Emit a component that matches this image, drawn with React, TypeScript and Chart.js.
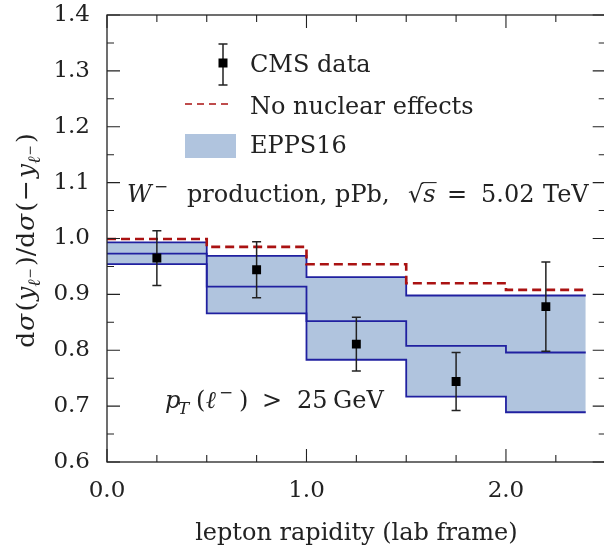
import React, { useEffect, useRef } from 'react';
import { Chart, registerables } from 'chart.js';
Chart.register(...registerables);

// ---- data ----
const binEdges = [0, 0.5, 1.0, 1.5, 2.0, 2.4];
const eppsUpper = [0.993, 0.969, 0.931, 0.898, 0.898];
const eppsCentral = [0.973, 0.914, 0.852, 0.808, 0.796];
const eppsLower = [0.954, 0.866, 0.783, 0.717, 0.689];
const noNuclear = [0.999, 0.985, 0.954, 0.92, 0.908];
const cmsX = [0.25, 0.75, 1.25, 1.75, 2.2];
const cmsY = [0.965, 0.944, 0.811, 0.744, 0.878];
const cmsErr = [0.049, 0.05, 0.048, 0.052, 0.08];
const xTickValues = [0, 1, 2];
const xMinorTicks = [0.25, 0.5, 0.75, 1.25, 1.5, 1.75, 2.25];
const yTickValues = [0.6, 0.7, 0.8, 0.9, 1.0, 1.1, 1.2, 1.3, 1.4];
const yMinorTicks = [0.65, 0.75, 0.85, 0.95, 1.05, 1.15, 1.25, 1.35];
const legendLabels = ['CMS data', 'No nuclear effects', 'EPPS16'];

const FONT = '"DejaVu Serif"';
const TICK_SIZE = 23;
const LEGEND_SIZE = 24;
const NOTE_SIZE = 24;
const XTITLE_SIZE = 24;
const YTITLE_SIZE = 25;
const INK = '#222222';
const BAND = 'rgb(176,196,222)';
const BLUE = 'rgb(32,32,160)';
const RED = 'rgb(170,18,18)';

function steps(vals: number[]) {
  const pts = vals.map((v, i) => ({ x: binEdges[i], y: v }));
  pts.push({ x: binEdges[binEdges.length - 1], y: vals[vals.length - 1] });
  return pts;
}

type Seg = {
  t: string;
  it?: boolean;
  pos?: 'sub' | 'sup' | 'subsup';
  radical?: boolean;
  over?: boolean;
  at?: number;
  gap?: number;
};

function segStyle(seg: Seg, base: number) {
  let size = base;
  let dy = 0;
  if (seg.pos === 'sub') { size = base * 0.7; dy = base * 0.24; }
  if (seg.pos === 'sup') { size = base * 0.7; dy = -base * 0.4; }
  if (seg.pos === 'subsup') { size = base * 0.5; dy = base * 0.0; }
  return { font: `${seg.it ? 'italic ' : ''}${size}px ${FONT}`, dy };
}

function measureRich(ctx: CanvasRenderingContext2D, segs: Seg[], base: number) {
  let w = 0;
  for (const s of segs) {
    ctx.font = segStyle(s, base).font;
    w += ctx.measureText(s.t).width + (s.gap || 0);
  }
  return w;
}

function drawRich(ctx: CanvasRenderingContext2D, segs: Seg[], x: number, y: number, base: number) {
  let cx = x;
  let radTop = 0;
  ctx.textAlign = 'left';
  ctx.textBaseline = 'alphabetic';
  for (const s of segs) {
    if (s.at !== undefined) cx = x + s.at;
    const st = segStyle(s, base);
    ctx.font = st.font;
    const m = ctx.measureText(s.t);
    ctx.fillText(s.t, cx, y + st.dy);
    if (s.radical) radTop = m.actualBoundingBoxAscent;
    if (s.over) {
      ctx.save();
      ctx.lineWidth = 1.1;
      ctx.beginPath();
      ctx.moveTo(cx - 1, y - radTop + 0.6);
      ctx.lineTo(cx + m.width + 1, y - radTop + 0.6);
      ctx.stroke();
      ctx.restore();
    }
    cx += m.width + (s.gap || 0);
  }
}

const yTitle: Seg[] = [
  { t: 'd', gap: 1 }, { t: 'σ', it: true, gap: 2 }, { t: '(', gap: 1 }, { t: 'y', it: true, gap: 0 },
  { t: 'ℓ', it: true, pos: 'sub', gap: 1 }, { t: '−', pos: 'subsup', gap: 2 },
  { t: ')/d', gap: 1 }, { t: 'σ', it: true, gap: 2 }, { t: '(', gap: 1 }, { t: '−', gap: 2 }, { t: 'y', it: true, gap: 0 },
  { t: 'ℓ', it: true, pos: 'sub', gap: 1 }, { t: '−', pos: 'subsup', gap: 2 }, { t: ')' },
];
const wNote: Seg[] = [
  { t: 'W', it: true, at: 0 }, { t: '−', pos: 'sup', at: 27 }, { t: 'production, pPb,', at: 60 },
  { t: '√', radical: true, at: 281 }, { t: 's', it: true, over: true }, { t: '=', at: 320 },
  { t: '5.02', at: 354 }, { t: 'TeV', at: 416 },
];
const ptNote: Seg[] = [
  { t: 'p', it: true, at: 0 }, { t: 'T', it: true, pos: 'sub', at: 13 }, { t: '(', at: 31 },
  { t: 'ℓ', it: true, at: 41 }, { t: '−', pos: 'sup', at: 54 }, { t: ')', at: 74 },
  { t: '>', at: 97 }, { t: '25', at: 132 }, { t: 'GeV', at: 168 },
];
const xTitle = 'lepton rapidity (lab frame)';

const CMS_INDEX = 4;

const decorPlugin = {
  id: 'decor',
  beforeDatasetDraw(chart: any, args: any) {
    if (args.index !== CMS_INDEX) return;
    const ctx: CanvasRenderingContext2D = chart.ctx;
    const xs = chart.scales.x;
    const ys = chart.scales.y;
    ctx.save();
    ctx.strokeStyle = INK;
    ctx.lineWidth = 1.5;
    for (let i = 0; i < cmsX.length; i++) {
      const px = xs.getPixelForValue(cmsX[i]);
      const t = ys.getPixelForValue(cmsY[i] + cmsErr[i]);
      const b = ys.getPixelForValue(cmsY[i] - cmsErr[i]);
      ctx.beginPath();
      ctx.moveTo(px, t); ctx.lineTo(px, b);
      ctx.moveTo(px - 4.5, t); ctx.lineTo(px + 4.5, t);
      ctx.moveTo(px - 4.5, b); ctx.lineTo(px + 4.5, b);
      ctx.stroke();
    }
    ctx.restore();
  },
  afterDraw(chart: any) {
    const ctx: CanvasRenderingContext2D = chart.ctx;
    const a = chart.chartArea;
    const xs = chart.scales.x;
    const ys = chart.scales.y;
    ctx.save();
    // frame
    ctx.strokeStyle = INK;
    ctx.lineWidth = 1.3;
    ctx.strokeRect(a.left, a.top, a.right - a.left, a.bottom - a.top);
    // inward ticks
    ctx.lineWidth = 1.1;
    ctx.beginPath();
    const xt = (v: number, len: number) => {
      const p = xs.getPixelForValue(v);
      ctx.moveTo(p, a.bottom); ctx.lineTo(p, a.bottom - len);
      ctx.moveTo(p, a.top); ctx.lineTo(p, a.top + len);
    };
    const yt = (v: number, len: number) => {
      const p = ys.getPixelForValue(v);
      ctx.moveTo(a.left, p); ctx.lineTo(a.left + len, p);
      ctx.moveTo(a.right, p); ctx.lineTo(a.right - len, p);
    };
    xTickValues.forEach((v) => xt(v, 13));
    xMinorTicks.forEach((v) => xt(v, 7));
    yTickValues.forEach((v) => yt(v, 13));
    yMinorTicks.forEach((v) => yt(v, 7));
    ctx.stroke();

    ctx.fillStyle = INK;
    // legend
    ctx.lineWidth = 1.5;
    ctx.beginPath();
    ctx.moveTo(223, 44); ctx.lineTo(223, 85);
    ctx.moveTo(218.5, 44); ctx.lineTo(227.5, 44);
    ctx.moveTo(218.5, 85); ctx.lineTo(227.5, 85);
    ctx.stroke();
    ctx.fillStyle = '#000';
    ctx.fillRect(218.5, 58.5, 9, 9);
    ctx.save();
    ctx.strokeStyle = RED;
    ctx.lineWidth = 1.6;
    ctx.setLineDash([7, 5]);
    ctx.beginPath();
    ctx.moveTo(185, 104); ctx.lineTo(232, 104);
    ctx.stroke();
    ctx.restore();
    ctx.fillStyle = BAND;
    ctx.fillRect(185, 134, 51, 24);
    ctx.fillStyle = INK;
    ctx.font = `${LEGEND_SIZE}px ${FONT}`;
    ctx.textAlign = 'left';
    ctx.textBaseline = 'alphabetic';
    ctx.fillText(legendLabels[0], 250, 72);
    ctx.fillText(legendLabels[1], 250, 114);
    ctx.fillText(legendLabels[2], 250, 153);

    // annotations
    drawRich(ctx, wNote, 127, 202, NOTE_SIZE);
    drawRich(ctx, ptNote, 165, 408, NOTE_SIZE);

    // x title
    ctx.font = `${XTITLE_SIZE}px ${FONT}`;
    ctx.textAlign = 'center';
    ctx.fillText(xTitle, (a.left + a.right) / 2, 540);

    // y title (rotated)
    ctx.save();
    ctx.translate(34, (a.top + a.bottom) / 2 + 2);
    ctx.rotate(-Math.PI / 2);
    const w = measureRich(ctx, yTitle, YTITLE_SIZE);
    drawRich(ctx, yTitle, -w / 2, 0, YTITLE_SIZE);
    ctx.restore();

    ctx.restore();
  },
};

export default function App() {
  const ref = useRef<HTMLCanvasElement | null>(null);
  useEffect(() => {
    if (!ref.current) return;
    const zeroPad = (s: any) => {
      s.paddingTop = 0; s.paddingBottom = 0; s.paddingLeft = 0; s.paddingRight = 0;
    };
    const chart = new Chart(ref.current, {
      type: 'line',
      data: {
        datasets: [
          {
            label: 'EPPS16 lower',
            data: steps(eppsLower),
            stepped: true,
            borderColor: BLUE,
            borderWidth: 1.8,
            pointRadius: 0,
            fill: false,
            order: 2,
          },
          {
            label: 'EPPS16 central',
            data: steps(eppsCentral),
            stepped: true,
            borderColor: BLUE,
            borderWidth: 1.8,
            pointRadius: 0,
            fill: false,
            order: 2,
          },
          {
            label: legendLabels[2],
            data: steps(eppsUpper),
            stepped: true,
            borderColor: BLUE,
            borderWidth: 1.8,
            backgroundColor: BAND,
            pointRadius: 0,
            fill: 0,
            order: 3,
          },
          {
            label: legendLabels[1],
            data: steps(noNuclear),
            stepped: true,
            borderColor: RED,
            borderWidth: 2.6,
            borderDash: [9, 5],
            pointRadius: 0,
            fill: false,
            order: 1,
          },
          {
            label: legendLabels[0],
            data: cmsX.map((x, i) => ({ x, y: cmsY[i] })),
            showLine: false,
            pointStyle: 'rect',
            pointRadius: 6.3,
            pointBackgroundColor: '#000',
            pointBorderWidth: 0,
            borderColor: '#000',
            fill: false,
            order: 0,
          },
        ],
      },
      options: {
        responsive: false,
        animation: false,
        events: [],
        layout: { padding: { left: 0, right: 4, top: 15, bottom: 0 } },
        plugins: { legend: { display: false }, tooltip: { enabled: false } },
        scales: {
          x: {
            type: 'linear',
            min: 0,
            max: 2.5,
            afterBuildTicks: (s: any) => { s.ticks = xTickValues.map((v) => ({ value: v })); },
            afterFit: (s: any) => { s.height = 84; zeroPad(s); },
            grid: { display: false, drawTicks: false },
            border: { display: false },
            ticks: {
              padding: 15,
              color: INK,
              font: { family: 'DejaVu Serif', size: TICK_SIZE },
              callback: (v: any) => Number(v).toFixed(1),
              maxRotation: 0,
            },
          },
          y: {
            type: 'linear',
            min: 0.6,
            max: 1.4,
            afterBuildTicks: (s: any) => { s.ticks = yTickValues.map((v) => ({ value: v })); },
            afterFit: (s: any) => { s.width = 107; zeroPad(s); },
            grid: { display: false, drawTicks: false },
            border: { display: false },
            ticks: {
              padding: 17,
              color: INK,
              font: { family: 'DejaVu Serif', size: TICK_SIZE },
              callback: (v: any) => Number(v).toFixed(1),
            },
          },
        },
      },
      plugins: [decorPlugin],
    } as any);
    return () => chart.destroy();
  }, []);
  return (
    <div style={{ position: 'absolute', left: 0, top: 0, width: 604, height: 546, overflow: 'hidden', background: '#fff' }}>
      <canvas ref={ref} width={612} height={546} style={{ width: 612, height: 546, display: 'block' }} />
    </div>
  );
}
